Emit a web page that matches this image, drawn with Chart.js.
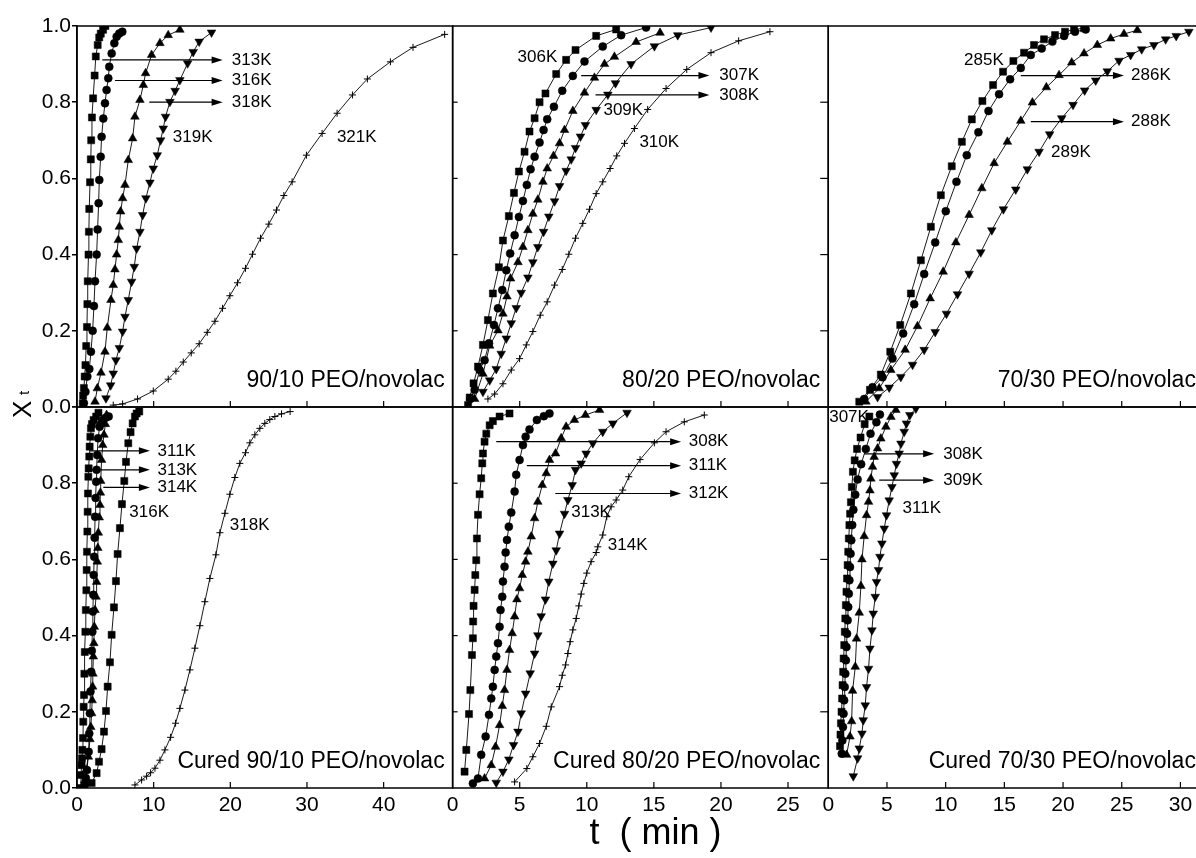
<!DOCTYPE html>
<html>
<head>
<meta charset="utf-8">
<title>Xt vs t, PEO/novolac</title>
<script src="https://cdn.jsdelivr.net/npm/chart.js@4.4.1/dist/chart.umd.min.js"></script>
<style>
  html, body { margin: 0; padding: 0; background: #fff; overflow: hidden; }
  #wrap { position: relative; width: 1196px; height: 858px; overflow: hidden; }
  canvas { display: block; }
</style>
</head>
<body>
<div id="wrap"><canvas id="chart" width="1215" height="858"></canvas></div>
<script>
// ---- 90/10 PEO/novolac ----
const n90_313K_t = [0.75, 0.8, 0.9, 1.0, 1.1, 1.2, 1.3, 1.35, 1.4, 1.5, 1.55, 1.6, 1.7, 1.8, 1.85, 1.95, 2.1, 2.3, 2.45, 2.7, 2.9, 3.1, 3.4, 3.7];
const n90_313K_X = [0.01, 0.03, 0.05, 0.08, 0.11, 0.16, 0.21, 0.27, 0.33, 0.40, 0.46, 0.52, 0.59, 0.65, 0.70, 0.76, 0.81, 0.87, 0.92, 0.95, 0.97, 0.98, 0.99, 1.0];
const n90_316K_t = [0.9, 1.1, 1.35, 1.61, 1.82, 2.04, 2.21, 2.35, 2.56, 2.69, 2.82, 2.91, 3.09, 3.21, 3.43, 3.65, 3.86, 4.08, 4.21, 4.52, 4.87, 5.17, 5.51, 5.91];
const n90_316K_X = [0.01, 0.04, 0.08, 0.10, 0.145, 0.20, 0.265, 0.33, 0.40, 0.466, 0.535, 0.596, 0.657, 0.709, 0.757, 0.797, 0.832, 0.863, 0.893, 0.928, 0.955, 0.972, 0.98, 0.985];
const n90_318K_t = [2.35, 2.65, 3.13, 3.65, 3.95, 4.43, 4.73, 4.95, 5.17, 5.39, 5.52, 5.69, 5.95, 6.26, 6.69, 7.26, 7.56, 8.21, 8.65, 8.95, 9.73, 10.82, 11.9, 13.42];
const n90_318K_X = [0.014, 0.049, 0.09, 0.145, 0.208, 0.281, 0.32, 0.361, 0.40, 0.438, 0.473, 0.513, 0.548, 0.583, 0.648, 0.705, 0.762, 0.806, 0.845, 0.876, 0.924, 0.955, 0.976, 0.99];
const n90_319K_t = [3.78, 4.39, 4.73, 5.08, 5.52, 5.95, 6.26, 6.69, 7.12, 7.47, 7.78, 8.21, 8.56, 8.99, 9.51, 9.95, 10.47, 10.9, 11.25, 11.55, 12.12, 12.8, 13.42, 14.43, 15.16, 15.94, 17.55];
const n90_319K_X = [0.023, 0.057, 0.088, 0.123, 0.155, 0.198, 0.237, 0.281, 0.329, 0.368, 0.416, 0.46, 0.504, 0.548, 0.589, 0.626, 0.661, 0.70, 0.731, 0.762, 0.801, 0.83, 0.858, 0.902, 0.932, 0.959, 0.983];
const n90_321K_t = [4.73, 5.95, 7.9, 9.95, 11.9, 12.9, 13.86, 14.9, 15.94, 16.99, 17.99, 18.99, 19.94, 20.94, 21.98, 22.89, 23.94, 25.02, 26.02, 26.98, 28.06, 29.93, 31.97, 33.93, 35.93, 37.88, 40.88, 43.83, 47.96];
const n90_321K_X = [0.005, 0.008, 0.021, 0.042, 0.073, 0.094, 0.118, 0.142, 0.166, 0.196, 0.225, 0.259, 0.292, 0.326, 0.364, 0.401, 0.443, 0.48, 0.517, 0.555, 0.591, 0.661, 0.718, 0.771, 0.819, 0.861, 0.906, 0.944, 0.978];

// ---- 80/20 PEO/novolac ----
const n80_306K_t = [1.15, 1.27, 1.56, 1.89, 2.26, 2.63, 3.0, 3.45, 3.75, 4.19, 4.57, 4.94, 5.36, 5.73, 6.11, 6.48, 6.92, 7.72, 8.46, 9.16, 10.7, 12.19];
const n80_306K_X = [0.005, 0.025, 0.062, 0.106, 0.163, 0.228, 0.298, 0.367, 0.437, 0.501, 0.562, 0.618, 0.67, 0.723, 0.758, 0.80, 0.823, 0.874, 0.911, 0.937, 0.974, 0.991];
const n80_307K_t = [1.32, 1.64, 2.01, 2.38, 2.71, 3.08, 3.38, 3.7, 4.0, 4.29, 4.62, 4.94, 5.24, 5.53, 5.81, 6.11, 6.48, 6.78, 7.05, 7.55, 8.17, 8.96, 9.83, 11.19, 12.56, 14.42];
const n80_307K_X = [0.021, 0.045, 0.097, 0.123, 0.167, 0.215, 0.259, 0.307, 0.359, 0.403, 0.451, 0.499, 0.541, 0.583, 0.624, 0.657, 0.694, 0.727, 0.755, 0.788, 0.83, 0.869, 0.907, 0.946, 0.976, 0.996];
const n80_308K_t = [1.64, 2.26, 2.76, 3.38, 3.75, 4.05, 4.32, 4.87, 5.24, 5.61, 5.98, 6.35, 6.73, 7.05, 7.52, 7.97, 8.34, 8.96, 9.83, 10.57, 11.32, 12.06, 13.68, 15.46];
const n80_308K_X = [0.021, 0.087, 0.161, 0.201, 0.245, 0.29, 0.337, 0.38, 0.42, 0.464, 0.507, 0.544, 0.591, 0.626, 0.659, 0.692, 0.727, 0.777, 0.825, 0.864, 0.90, 0.919, 0.958, 0.982];
const n80_309K_t = [2.26, 2.76, 3.25, 3.62, 4.0, 4.37, 4.74, 5.11, 5.61, 5.98, 6.35, 6.78, 7.17, 7.6, 7.97, 8.46, 8.84, 9.16, 9.53, 9.9, 10.7, 11.57, 12.14, 13.3, 15.04, 16.78, 19.26];
const n80_309K_X = [0.04, 0.07, 0.10, 0.14, 0.18, 0.22, 0.26, 0.30, 0.34, 0.38, 0.42, 0.46, 0.50, 0.54, 0.58, 0.62, 0.65, 0.68, 0.71, 0.74, 0.78, 0.82, 0.85, 0.90, 0.947, 0.976, 0.996];
const n80_310K_t = [2.63, 3.13, 3.75, 4.37, 4.99, 5.49, 5.98, 6.53, 7.05, 7.6, 8.17, 8.66, 9.16, 9.7, 10.2, 10.7, 11.19, 11.74, 12.23, 12.81, 13.55, 14.54, 15.91, 17.45, 19.26, 21.32, 23.65];
const n80_310K_X = [0.021, 0.034, 0.061, 0.097, 0.127, 0.163, 0.198, 0.241, 0.276, 0.32, 0.361, 0.401, 0.443, 0.482, 0.519, 0.56, 0.591, 0.626, 0.659, 0.692, 0.731, 0.781, 0.836, 0.886, 0.93, 0.961, 0.985];

// ---- 70/30 PEO/novolac ----
const n70_285K_t = [2.64, 3.55, 4.48, 5.28, 6.13, 7.04, 7.89, 8.74, 9.59, 10.52, 11.38, 12.23, 13.13, 14.04, 14.89, 15.77, 16.68, 17.53, 18.38, 19.32, 20.17, 20.94, 21.79];
const n70_285K_X = [0.014, 0.045, 0.085, 0.145, 0.215, 0.298, 0.385, 0.473, 0.556, 0.632, 0.696, 0.755, 0.803, 0.845, 0.88, 0.908, 0.93, 0.95, 0.965, 0.976, 0.985, 0.991, 0.994];
const n70_286K_t = [3.06, 3.77, 4.62, 5.47, 6.38, 7.32, 8.17, 9.11, 10.01, 10.92, 11.8, 12.79, 13.65, 14.55, 15.49, 16.4, 17.25, 18.18, 19.09, 20.09, 21.02, 21.93];
const n70_286K_X = [0.021, 0.052, 0.078, 0.127, 0.193, 0.27, 0.349, 0.432, 0.514, 0.591, 0.661, 0.721, 0.777, 0.821, 0.86, 0.89, 0.924, 0.941, 0.959, 0.974, 0.985, 0.991];
const n70_288K_t = [3.21, 4.34, 5.33, 6.55, 7.6, 8.68, 9.79, 10.87, 12.0, 13.08, 14.13, 15.26, 16.4, 17.39, 18.58, 19.66, 20.74, 21.79, 22.92, 24.06, 25.19, 26.33];
const n70_288K_X = [0.014, 0.049, 0.097, 0.15, 0.212, 0.285, 0.355, 0.432, 0.504, 0.574, 0.64, 0.696, 0.751, 0.799, 0.839, 0.871, 0.904, 0.928, 0.95, 0.967, 0.979, 0.989];
const n70_289K_t = [4.2, 5.19, 6.18, 7.18, 8.17, 9.11, 10.07, 11.01, 12.0, 12.99, 13.93, 14.92, 15.97, 16.96, 17.96, 18.86, 19.89, 20.85, 21.84, 22.78, 23.77, 24.77, 25.76, 26.7, 27.74, 28.74, 29.64, 30.72];
const n70_289K_X = [0.026, 0.051, 0.079, 0.111, 0.15, 0.197, 0.245, 0.296, 0.35, 0.406, 0.464, 0.519, 0.571, 0.624, 0.67, 0.716, 0.758, 0.793, 0.831, 0.857, 0.881, 0.909, 0.924, 0.939, 0.95, 0.965, 0.974, 0.985];

// ---- Cured 90/10 PEO/novolac ----
const c90_311K_t = [0.43, 0.52, 0.6, 0.65, 0.7, 0.78, 0.82, 0.87, 0.92, 0.96, 1.02, 1.09, 1.15, 1.22, 1.26, 1.3, 1.35, 1.39, 1.43, 1.48, 1.52, 1.6, 1.65, 1.74, 1.82, 1.95, 2.17, 2.5, 2.8];
const c90_311K_X = [0.0, 0.034, 0.06, 0.078, 0.10, 0.131, 0.174, 0.213, 0.244, 0.30, 0.357, 0.41, 0.467, 0.519, 0.572, 0.62, 0.673, 0.725, 0.773, 0.817, 0.839, 0.87, 0.896, 0.922, 0.944, 0.955, 0.966, 0.975, 0.985];
const c90_313K_t = [1.0, 1.15, 1.3, 1.52, 1.6, 1.68, 1.76, 1.85, 1.93, 2.0, 2.07, 2.13, 2.18, 2.24, 2.3, 2.36, 2.43, 2.5, 2.56, 2.63, 2.75, 2.95, 3.15, 3.4, 3.75, 4.13];
const c90_313K_X = [0.008, 0.026, 0.047, 0.095, 0.143, 0.196, 0.253, 0.305, 0.36, 0.41, 0.463, 0.507, 0.559, 0.607, 0.657, 0.712, 0.761, 0.804, 0.835, 0.874, 0.918, 0.948, 0.957, 0.966, 0.972, 0.975];
const c90_314K_t = [1.0, 1.17, 1.48, 1.69, 1.8, 1.91, 1.98, 2.04, 2.08, 2.13, 2.2, 2.26, 2.35, 2.48, 2.56, 2.65, 2.72, 2.78, 2.9, 3.0, 3.05, 3.09, 3.21, 3.35, 3.52, 3.7, 3.86];
const c90_314K_X = [0.02, 0.047, 0.082, 0.128, 0.16, 0.196, 0.23, 0.266, 0.30, 0.345, 0.38, 0.423, 0.467, 0.502, 0.541, 0.594, 0.63, 0.67, 0.71, 0.743, 0.775, 0.806, 0.861, 0.90, 0.927, 0.955, 0.979];
const c90_316K_t = [1.91, 2.56, 2.87, 3.21, 3.52, 3.78, 4.0, 4.3, 4.52, 4.82, 5.08, 5.3, 5.6, 5.86, 6.17, 6.39, 6.69, 6.99, 7.26, 7.56, 7.78, 8.12];
const c90_316K_X = [0.013, 0.039, 0.069, 0.102, 0.148, 0.202, 0.266, 0.33, 0.402, 0.474, 0.543, 0.614, 0.682, 0.745, 0.806, 0.856, 0.905, 0.934, 0.957, 0.975, 0.983, 0.988];
const c90_318K_t = [7.56, 8.43, 9.08, 9.6, 10.17, 10.82, 11.47, 12.21, 12.86, 13.42, 14.08, 14.73, 15.38, 16.03, 16.68, 17.33, 18.12, 18.64, 19.29, 19.94, 20.59, 21.24, 21.98, 22.55, 23.2, 23.85, 24.5, 25.15, 25.81, 26.68, 27.8];
const c90_318K_X = [0.008, 0.021, 0.031, 0.04, 0.052, 0.073, 0.1, 0.133, 0.17, 0.209, 0.257, 0.31, 0.367, 0.426, 0.489, 0.55, 0.612, 0.67, 0.721, 0.771, 0.815, 0.852, 0.88, 0.906, 0.927, 0.944, 0.957, 0.967, 0.975, 0.982, 0.988];

// ---- Cured 80/20 PEO/novolac ----
const c80_308K_t = [0.89, 1.02, 1.22, 1.32, 1.44, 1.51, 1.53, 1.56, 1.64, 1.69, 1.76, 1.81, 1.89, 2.01, 2.13, 2.21, 2.26, 2.38, 2.51, 2.76, 3.0, 3.5, 4.24];
const c80_308K_X = [0.043, 0.1, 0.194, 0.257, 0.349, 0.393, 0.437, 0.478, 0.52, 0.559, 0.598, 0.655, 0.717, 0.771, 0.813, 0.852, 0.878, 0.909, 0.93, 0.952, 0.963, 0.975, 0.983];
const c80_311K_t = [1.51, 1.89, 2.13, 2.46, 2.71, 2.88, 3.0, 3.13, 3.25, 3.38, 3.5, 3.57, 3.7, 3.75, 3.87, 3.95, 4.05, 4.19, 4.37, 4.62, 4.74, 4.99, 5.24, 5.44, 5.73, 6.28, 6.8, 7.22];
const c80_311K_X = [0.012, 0.025, 0.087, 0.135, 0.192, 0.235, 0.266, 0.31, 0.345, 0.38, 0.423, 0.467, 0.502, 0.542, 0.581, 0.618, 0.651, 0.686, 0.723, 0.778, 0.822, 0.861, 0.9, 0.922, 0.941, 0.966, 0.976, 0.983];
const c80_312K_t = [2.38, 2.88, 3.2, 3.5, 3.7, 3.87, 4.05, 4.24, 4.44, 4.62, 4.79, 4.99, 5.19, 5.44, 5.61, 5.86, 6.11, 6.35, 6.68, 6.98, 7.22, 7.67, 8.09, 8.46, 9.08, 9.9, 10.95];
const c80_312K_X = [0.025, 0.06, 0.108, 0.165, 0.215, 0.257, 0.31, 0.362, 0.406, 0.45, 0.495, 0.524, 0.559, 0.594, 0.62, 0.66, 0.708, 0.751, 0.795, 0.826, 0.861, 0.878, 0.918, 0.948, 0.966, 0.979, 0.992];
const c80_313K_t = [3.25, 3.75, 4.19, 4.54, 4.87, 5.11, 5.44, 5.78, 6.11, 6.35, 6.6, 6.92, 7.17, 7.47, 7.72, 7.97, 8.34, 8.59, 8.91, 9.16, 9.58, 9.95, 10.45, 11.19, 11.94, 13.0];
const c80_313K_X = [0.014, 0.043, 0.075, 0.113, 0.148, 0.196, 0.248, 0.301, 0.353, 0.401, 0.451, 0.495, 0.542, 0.589, 0.624, 0.668, 0.72, 0.756, 0.795, 0.835, 0.852, 0.878, 0.905, 0.935, 0.957, 0.985];
const c80_314K_t = [4.62, 5.53, 5.98, 6.48, 6.98, 7.35, 7.97, 8.17, 8.42, 8.59, 8.76, 8.96, 9.21, 9.41, 9.58, 9.78, 10.0, 10.32, 10.7, 10.82, 11.19, 11.49, 11.81, 12.19, 12.68, 13.13, 13.97, 15.04, 15.91, 17.27, 18.76];
const c80_314K_X = [0.016, 0.051, 0.082, 0.117, 0.162, 0.213, 0.266, 0.296, 0.323, 0.353, 0.384, 0.415, 0.445, 0.478, 0.509, 0.537, 0.564, 0.594, 0.618, 0.633, 0.664, 0.712, 0.738, 0.756, 0.782, 0.817, 0.862, 0.906, 0.935, 0.961, 0.979];

// ---- Cured 70/30 PEO/novolac ----
const c70_307K_t = [1.0, 1.04, 1.08, 1.13, 1.18, 1.22, 1.27, 1.31, 1.36, 1.41, 1.45, 1.5, 1.55, 1.6, 1.65, 1.7, 1.75, 1.8, 1.86, 1.93, 2.01, 2.1, 2.25, 2.45, 2.75, 3.1, 3.5];
const c70_307K_X = [0.11, 0.14, 0.17, 0.2, 0.235, 0.27, 0.305, 0.34, 0.375, 0.41, 0.445, 0.48, 0.515, 0.55, 0.585, 0.62, 0.655, 0.69, 0.72, 0.75, 0.79, 0.83, 0.86, 0.89, 0.92, 0.955, 0.975];
const c70_308K_t = [1.15, 1.2, 1.25, 1.3, 1.35, 1.4, 1.45, 1.5, 1.55, 1.6, 1.65, 1.7, 1.75, 1.8, 1.85, 1.9, 1.96, 2.04, 2.14, 2.3, 2.5, 2.8, 3.2, 3.6, 4.1, 4.4];
const c70_308K_X = [0.09, 0.125, 0.16, 0.195, 0.23, 0.265, 0.30, 0.335, 0.37, 0.405, 0.44, 0.475, 0.51, 0.545, 0.58, 0.615, 0.65, 0.69, 0.73, 0.77, 0.81, 0.85, 0.89, 0.93, 0.96, 0.98];
const c70_309K_t = [1.56, 1.85, 1.99, 2.07, 2.3, 2.41, 2.64, 2.78, 2.87, 3.06, 3.26, 3.43, 3.55, 3.63, 3.77, 3.91, 4.2, 4.48, 4.91, 5.34, 5.76];
const c70_309K_X = [0.087, 0.135, 0.175, 0.255, 0.318, 0.392, 0.46, 0.53, 0.60, 0.661, 0.716, 0.751, 0.781, 0.812, 0.843, 0.869, 0.891, 0.917, 0.948, 0.974, 0.992];
const c70_311K_t = [2.13, 2.5, 2.64, 2.87, 2.98, 3.15, 3.26, 3.43, 3.55, 3.72, 3.83, 4.0, 4.11, 4.28, 4.4, 4.57, 4.77, 4.96, 5.19, 5.42, 5.62, 5.81, 6.04, 6.19, 6.47, 6.66, 6.95, 7.46];
const c70_311K_X = [0.031, 0.078, 0.104, 0.143, 0.178, 0.217, 0.265, 0.313, 0.366, 0.414, 0.458, 0.502, 0.541, 0.572, 0.607, 0.642, 0.681, 0.716, 0.755, 0.79, 0.821, 0.851, 0.878, 0.904, 0.935, 0.957, 0.979, 0.996];

// axis ranges per column (minutes) and tick steps
const colMax = [49, 28, 32];
const colStep = [10, 5, 5];
const panelTitles = ['90/10 PEO/novolac', '80/20 PEO/novolac', '70/30 PEO/novolac',
                     'Cured 90/10 PEO/novolac', 'Cured 80/20 PEO/novolac', 'Cured 70/30 PEO/novolac'];
const panelAxes = [['x1', 'yT'], ['x2', 'yT'], ['x3', 'yT'], ['x1', 'yB'], ['x2', 'yB'], ['x3', 'yB']];

// labels with arrows: [panel, text, X, t from, t to, label t]
const arrowNotes = [
  [0, '313K', 0.911, 3.3, 19.0, 20.2], [0, '316K', 0.857, 4.95, 19.0, 20.2], [0, '318K', 0.80, 9.43, 19.0, 20.2],
  [1, '307K', 0.87, 9.58, 19.14, 19.88], [1, '308K', 0.819, 10.65, 19.14, 19.88],
  [2, '286K', 0.87, 16.4, 25.19, 25.8], [2, '288K', 0.749, 17.25, 25.19, 25.8],
  [3, '311K', 0.885, 1.69, 9.51, 10.5], [3, '313K', 0.835, 1.91, 9.51, 10.5], [3, '314K', 0.789, 3.43, 9.51, 10.5],
  [4, '308K', 0.909, 3.25, 17.03, 17.6], [4, '311K', 0.846, 5.53, 17.03, 17.6], [4, '312K', 0.773, 7.65, 17.03, 17.6],
  [5, '308K', 0.877, 3.06, 9.02, 9.79], [5, '309K', 0.808, 4.34, 9.02, 9.79]
];
// plain labels: [panel, text, t, X]
const textNotes = [
  [0, '319K', 12.5, 0.709], [0, '321K', 33.9, 0.709],
  [1, '306K', 4.84, 0.919], [1, '309K', 11.24, 0.778], [1, '310K', 13.92, 0.694],
  [2, '285K', 11.57, 0.911], [2, '289K', 18.98, 0.668],
  [3, '316K', 6.82, 0.723], [3, '318K', 19.94, 0.689],
  [4, '313K', 8.84, 0.723], [4, '314K', 11.57, 0.638],
  [5, '307K', 0.08, 0.973], [5, '311K', 6.33, 0.734]
];

const FONT = '"Liberation Sans", Arial, Helvetica, sans-serif';
const SQ = { style: 'rect', r: 5 };
const CI = { style: 'circle', r: 4 };
const UP = { style: 'triangle', r: 5 };
const DN = { style: 'triangle', r: 5, rot: 180 };
const CR = { style: 'cross', r: 3.5 };

function series(label, t, X, m, xId, yId) {
  return {
    label: label,
    data: t.map((v, i) => ({ x: v, y: X[i] })),
    xAxisID: xId,
    yAxisID: yId,
    showLine: true,
    borderColor: '#000',
    borderWidth: 0.9,
    backgroundColor: '#000',
    pointBackgroundColor: '#000',
    pointBorderColor: '#000',
    pointBorderWidth: m.style === 'cross' ? 1 : 0.5,
    pointStyle: m.style,
    pointRadius: m.r,
    pointRotation: m.rot || 0,
    tension: 0
  };
}

const datasets = [
  series('313K', n90_313K_t, n90_313K_X, SQ, 'x1', 'yT'),
  series('316K', n90_316K_t, n90_316K_X, CI, 'x1', 'yT'),
  series('318K', n90_318K_t, n90_318K_X, UP, 'x1', 'yT'),
  series('319K', n90_319K_t, n90_319K_X, DN, 'x1', 'yT'),
  series('321K', n90_321K_t, n90_321K_X, CR, 'x1', 'yT'),
  series('306K', n80_306K_t, n80_306K_X, SQ, 'x2', 'yT'),
  series('307K', n80_307K_t, n80_307K_X, CI, 'x2', 'yT'),
  series('308K', n80_308K_t, n80_308K_X, UP, 'x2', 'yT'),
  series('309K', n80_309K_t, n80_309K_X, DN, 'x2', 'yT'),
  series('310K', n80_310K_t, n80_310K_X, CR, 'x2', 'yT'),
  series('285K', n70_285K_t, n70_285K_X, SQ, 'x3', 'yT'),
  series('286K', n70_286K_t, n70_286K_X, CI, 'x3', 'yT'),
  series('288K', n70_288K_t, n70_288K_X, UP, 'x3', 'yT'),
  series('289K', n70_289K_t, n70_289K_X, DN, 'x3', 'yT'),
  series('311K', c90_311K_t, c90_311K_X, SQ, 'x1', 'yB'),
  series('313K', c90_313K_t, c90_313K_X, CI, 'x1', 'yB'),
  series('314K', c90_314K_t, c90_314K_X, UP, 'x1', 'yB'),
  series('316K', c90_316K_t, c90_316K_X, SQ, 'x1', 'yB'),
  series('318K', c90_318K_t, c90_318K_X, CR, 'x1', 'yB'),
  series('308K', c80_308K_t, c80_308K_X, SQ, 'x2', 'yB'),
  series('311K', c80_311K_t, c80_311K_X, CI, 'x2', 'yB'),
  series('312K', c80_312K_t, c80_312K_X, UP, 'x2', 'yB'),
  series('313K', c80_313K_t, c80_313K_X, DN, 'x2', 'yB'),
  series('314K', c80_314K_t, c80_314K_X, CR, 'x2', 'yB'),
  series('307K', c70_307K_t, c70_307K_X, SQ, 'x3', 'yB'),
  series('308K', c70_308K_t, c70_308K_X, CI, 'x3', 'yB'),
  series('309K', c70_309K_t, c70_309K_X, UP, 'x3', 'yB'),
  series('311K', c70_311K_t, c70_311K_X, DN, 'x3', 'yB')
];

function xScale(col, title) {
  return {
    type: 'linear', axis: 'x', position: 'bottom', stack: 'cols', stackWeight: 1,
    min: 0, max: colMax[col],
    border: { display: false },
    grid: { drawOnChartArea: false, drawTicks: false },
    ticks: {
      stepSize: colStep[col], includeBounds: false, autoSkip: false, maxRotation: 0,
      padding: 5, color: '#000', font: { family: FONT, size: 21 }
    },
    title: title ? {
      display: true, text: title, color: '#000',
      font: { family: FONT, size: 36 }, padding: { top: 0, bottom: 2 }
    } : { display: false },
    afterFit: s => { s.height = 70; }
  };
}

function yScale(bottomRow) {
  return {
    type: 'linear', axis: 'y', position: 'left', stack: 'rows', stackWeight: 1,
    min: 0, max: 1,
    border: { display: true, color: '#000', width: 1.5 },
    grid: { drawOnChartArea: false, drawTicks: true, tickLength: 5, color: '#000', lineWidth: 1.5 },
    ticks: {
      stepSize: 0.2, padding: 1, color: '#000', font: { family: FONT, size: 21 },
      callback: v => (bottomRow && v > 0.99) ? '' : v.toFixed(1)
    },
    afterFit: s => { s.width = 77; }
  };
}

// frames, inner ticks, panel names and temperature labels
const decor = {
  id: 'decor',
  afterDatasetsDraw(chart) {
    const ctx = chart.ctx;
    ctx.save();
    ctx.strokeStyle = '#000';
    ctx.fillStyle = '#000';
    panelAxes.forEach(([xid, yid], i) => {
      const xs = chart.scales[xid], ys = chart.scales[yid];
      ctx.lineWidth = 1.5;
      ctx.strokeRect(xs.left, ys.top, xs.right - xs.left, ys.bottom - ys.top);
      ctx.lineWidth = 1.2;
      xs.ticks.forEach(tk => {
        const px = xs.getPixelForValue(tk.value);
        if (px <= xs.left + 1) return;
        ctx.beginPath(); ctx.moveTo(px, ys.bottom); ctx.lineTo(px, ys.bottom - 6); ctx.stroke();
      });
      if (xid !== 'x1') {
        const len = xid === 'x2' ? 5 : -8;
        ys.ticks.forEach(tk => {
          if (tk.value <= 0.01 || tk.value >= 0.99) return;
          const py = ys.getPixelForValue(tk.value);
          ctx.beginPath(); ctx.moveTo(xs.left, py); ctx.lineTo(xs.left + len, py); ctx.stroke();
        });
      }
      ctx.font = '23px ' + FONT;
      ctx.textAlign = 'right';
      ctx.textBaseline = 'alphabetic';
      ctx.fillText(panelTitles[i], xs.right - 8, ys.bottom - 20);
    });

    ctx.font = '17px ' + FONT;
    ctx.textAlign = 'left';
    ctx.textBaseline = 'middle';
    arrowNotes.forEach(([p, text, X, t0, t1, tl]) => {
      const xs = chart.scales[panelAxes[p][0]], ys = chart.scales[panelAxes[p][1]];
      const py = ys.getPixelForValue(X);
      const a = xs.getPixelForValue(t0), b = xs.getPixelForValue(t1);
      ctx.lineWidth = 1.2;
      ctx.beginPath(); ctx.moveTo(a, py); ctx.lineTo(b - 8, py); ctx.stroke();
      ctx.beginPath(); ctx.moveTo(b, py); ctx.lineTo(b - 11, py - 3.5); ctx.lineTo(b - 11, py + 3.5); ctx.closePath(); ctx.fill();
      ctx.fillText(text, xs.getPixelForValue(tl), py);
    });
    textNotes.forEach(([p, text, t, X]) => {
      const xs = chart.scales[panelAxes[p][0]], ys = chart.scales[panelAxes[p][1]];
      ctx.fillText(text, xs.getPixelForValue(t), ys.getPixelForValue(X));
    });

    // y title X_t, rotated
    ctx.translate(31, 418);
    ctx.rotate(-Math.PI / 2);
    ctx.textBaseline = 'alphabetic';
    ctx.font = '26px ' + FONT;
    ctx.fillText('X', 0, 0);
    ctx.font = '15px ' + FONT;
    ctx.fillText('t', 23, -2);
    ctx.restore();
  }
};

new Chart(document.getElementById('chart'), {
  type: 'scatter',
  data: { datasets: datasets },
  options: {
    responsive: false,
    animation: false,
    events: [],
    layout: { padding: { left: 0, top: 26, right: 10, bottom: 0 } },
    plugins: { legend: { display: false }, tooltip: { enabled: false } },
    scales: {
      x1: xScale(0),
      x2: xScale(1, '   t  ( min )'),
      x3: xScale(2),
      // the layout stacks left boxes in reverse order, so the lower row comes first
      yB: yScale(true),
      yT: yScale(false)
    }
  },
  plugins: [decor]
});
</script>
</body>
</html>
